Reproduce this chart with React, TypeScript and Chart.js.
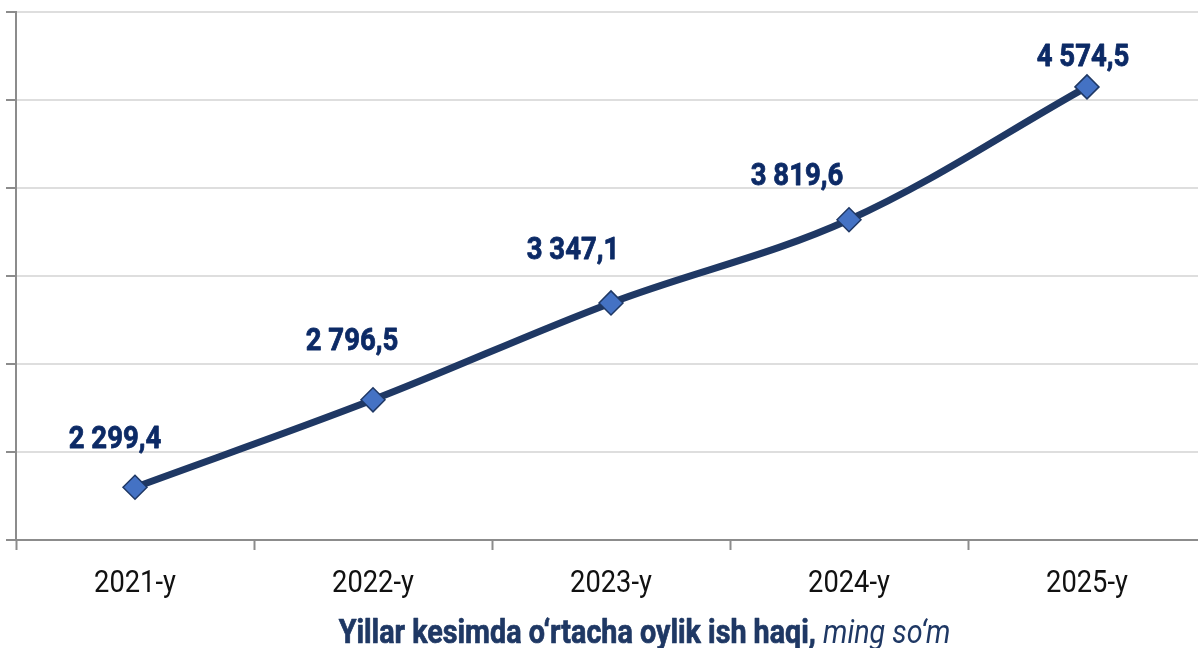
import React, { useEffect, useRef } from "react";
import { Chart, registerables } from "chart.js";

Chart.register(...registerables);

const categories = ["2021-y", "2022-y", "2023-y", "2024-y", "2025-y"];
const wages = [2299.4, 2796.5, 3347.1, 3819.6, 4574.5];
const valueLabels = ["2 299,4", "2 796,5", "3 347,1", "3 819,6", "4 574,5"];
const yMin = 2000;
const yMax = 5000;
const yStep = 500;
const titleBold = "Yillar kesimda o\u2018rtacha oylik ish haqi,";
const titleItalic = "ming so\u2018m";
// label placement relative to each marker: [dx to text centre, dy to baseline]
const labelOffsets = [
  [-20, -39],
  [-21, -50],
  [-38, -44],
  [-52, -35],
  [-4, -21],
];

const GRAY = "#8c8c8c";

function drawCondensed(
  ctx: CanvasRenderingContext2D,
  text: string,
  x: number,
  y: number,
  font: string,
  color: string,
  align: "center" | "left",
  scaleX: number,
  stroke: number
) {
  ctx.save();
  ctx.font = font;
  ctx.fillStyle = color;
  ctx.strokeStyle = color;
  ctx.lineJoin = "round";
  ctx.textBaseline = "alphabetic";
  ctx.textAlign = align;
  ctx.translate(x, y);
  ctx.scale(scaleX, 1);
  ctx.fillText(text, 0, 0);
  if (stroke > 0) {
    ctx.lineWidth = stroke;
    ctx.strokeText(text, 0, 0);
  }
  ctx.restore();
}

const textPlugin = {
  id: "textPlugin",
  afterDraw(chart: any) {
    const ctx: CanvasRenderingContext2D = chart.ctx;
    const meta = chart.getDatasetMeta(0);
    const xScale = chart.scales.x;
    // value labels
    meta.data.forEach((pt: any, i: number) => {
      const [dx, dy] = labelOffsets[i];
      drawCondensed(ctx, valueLabels[i], pt.x + dx, pt.y + dy, "bold 32px Roboto", "#0c2a66", "center", 0.86, 0.8);
    });
    // category labels
    categories.forEach((c, i) => {
      const x = xScale.getPixelForValue(i);
      drawCondensed(ctx, c, x, 592, "31px Roboto", "#111111", "center", 0.88, 0);
    });
    // title
    const tScale = 0.87;
    ctx.save();
    ctx.font = "bold 33px Roboto";
    const wb = ctx.measureText(titleBold + " ").width * tScale;
    ctx.font = "italic 33px Roboto";
    const wi = ctx.measureText(titleItalic).width * tScale;
    ctx.restore();
    const x0 = 644.5 - (wb + wi) / 2;
    drawCondensed(ctx, titleBold, x0, 643, "bold 33px Roboto", "#1f3864", "left", tScale, 0.7);
    drawCondensed(ctx, titleItalic, x0 + wb, 643, "italic 33px Roboto", "#1f3864", "left", tScale, 0);
  },
};

export default function App() {
  const ref = useRef<HTMLCanvasElement>(null);
  useEffect(() => {
    if (!ref.current) return;
    const chart = new Chart(ref.current, {
      type: "line",
      data: {
        labels: categories,
        datasets: [
          {
            data: wages,
            borderColor: "#1f3864",
            borderWidth: 7,
            tension: 0.35,
            pointStyle: "rectRot",
            pointRadius: 12,
            pointHoverRadius: 12,
            pointBackgroundColor: "#4472c4",
            pointBorderColor: "#1f3864",
            pointBorderWidth: 1.5,
            clip: false as any,
          },
        ],
      },
      options: {
        responsive: false,
        animation: false,
        events: [],
        layout: { padding: { top: 12, left: 0, right: 0, bottom: 0 }, autoPadding: false } as any,
        plugins: { legend: { display: false }, tooltip: { enabled: false }, title: { display: false } },
        scales: {
          x: {
            type: "category",
            offset: true,
            grid: {
              offset: true,
              drawOnChartArea: false,
              drawTicks: true,
              tickLength: 10,
              tickColor: GRAY,
              tickWidth: 2,
            } as any,
            border: { color: GRAY, width: 2 },
            ticks: { display: false },
            afterFit: (s: any) => {
              s.height = 108;
            },
          },
          y: {
            min: yMin,
            max: yMax,
            grid: {
              color: "#dedede",
              lineWidth: 2,
              drawTicks: true,
              tickLength: 10,
              tickColor: GRAY,
              tickWidth: 2,
            } as any,
            border: { color: GRAY, width: 2 },
            ticks: { display: false, stepSize: yStep },
            afterFit: (s: any) => {
              s.width = 16;
            },
          },
        },
      },
      plugins: [textPlugin],
    });
    return () => chart.destroy();
  }, []);
  return (
    <div
      style={{
        position: "fixed",
        left: 0,
        top: 0,
        width: 1198,
        height: 648,
        overflow: "hidden",
        background: "#ffffff",
      }}
    >
      <canvas ref={ref} width={1206} height={648} style={{ display: "block" }} />
    </div>
  );
}
